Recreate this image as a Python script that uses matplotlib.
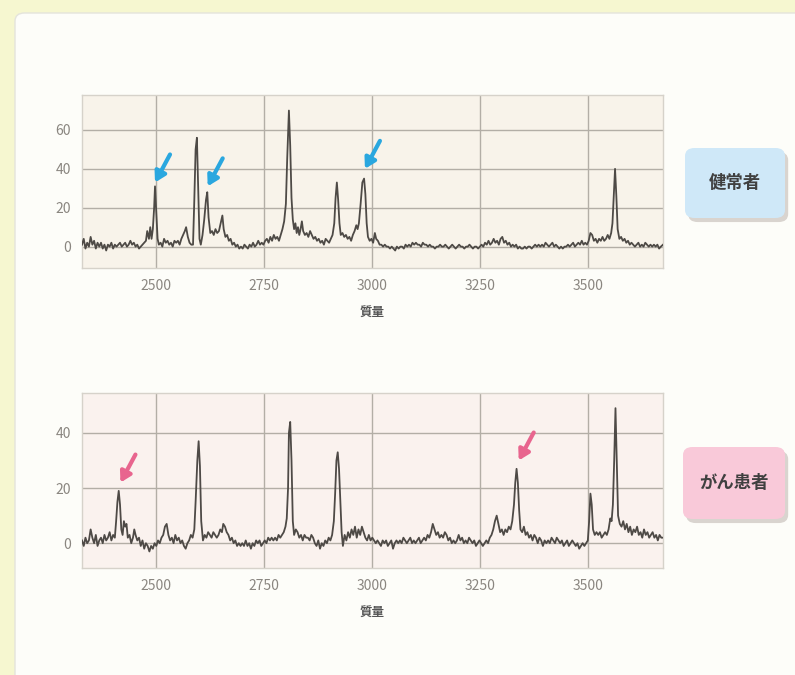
import matplotlib
matplotlib.use("Agg")
import matplotlib.pyplot as plt
from matplotlib.patches import FancyBboxPatch

plt.rcParams['font.family'] = ['Noto Sans CJK JP', 'DejaVu Sans']

# 健常者 spectrum (mass, intensity)
healthy_mass = [
    2329, 2333, 2337, 2341, 2345, 2349, 2353, 2357, 2361, 2365, 2369, 2373, 2377, 2381,
    2385, 2389, 2393, 2397, 2401, 2405, 2409, 2413, 2417, 2421, 2425, 2429, 2433, 2437,
    2441, 2445, 2449, 2453, 2457, 2461, 2465, 2469, 2473, 2477, 2480, 2484, 2487, 2490,
    2493, 2496, 2498, 2501, 2504, 2507, 2511, 2515, 2519, 2523, 2527, 2531, 2535, 2539,
    2543, 2547, 2551, 2555, 2559, 2563, 2567, 2570, 2574, 2578, 2582, 2586, 2589, 2592,
    2595, 2598, 2601, 2604, 2608, 2612, 2616, 2619, 2622, 2626, 2630, 2634, 2638, 2642,
    2646, 2650, 2654, 2657, 2661, 2665, 2669, 2673, 2677, 2681, 2685, 2689, 2693, 2697,
    2701, 2705, 2709, 2713, 2717, 2721, 2725, 2729, 2733, 2737, 2741, 2745, 2749, 2753,
    2757, 2761, 2765, 2769, 2773, 2777, 2781, 2785, 2789, 2793, 2797, 2801, 2804, 2808,
    2811, 2814, 2817, 2820, 2823, 2826, 2829, 2832, 2835, 2838, 2841, 2845, 2849, 2853,
    2857, 2861, 2865, 2869, 2873, 2877, 2881, 2885, 2889, 2893, 2897, 2901, 2905, 2909,
    2913, 2916, 2919, 2922, 2925, 2928, 2932, 2936, 2940, 2944, 2948, 2952, 2956, 2960,
    2964, 2967, 2970, 2974, 2978, 2982, 2985, 2988, 2991, 2995, 2999, 3003, 3007, 3010,
    3014, 3018, 3022, 3026, 3030, 3034, 3038, 3042, 3046, 3050, 3054, 3058, 3062, 3066,
    3070, 3074, 3078, 3082, 3086, 3090, 3094, 3098, 3102, 3106, 3110, 3114, 3118, 3122,
    3126, 3130, 3134, 3138, 3142, 3146, 3150, 3154, 3158, 3162, 3166, 3170, 3174, 3178,
    3182, 3186, 3190, 3194, 3198, 3202, 3206, 3210, 3214, 3218, 3222, 3226, 3230, 3234,
    3238, 3242, 3246, 3250, 3254, 3258, 3262, 3266, 3270, 3274, 3278, 3282, 3286, 3290,
    3294, 3298, 3302, 3306, 3310, 3314, 3318, 3322, 3326, 3330, 3334, 3338, 3342, 3346,
    3350, 3354, 3358, 3362, 3366, 3370, 3374, 3378, 3382, 3386, 3390, 3394, 3398, 3402,
    3406, 3410, 3414, 3418, 3422, 3426, 3430, 3434, 3438, 3442, 3446, 3450, 3454, 3458,
    3462, 3466, 3470, 3474, 3478, 3482, 3486, 3490, 3494, 3498, 3502, 3506, 3510, 3514,
    3518, 3522, 3526, 3530, 3534, 3538, 3542, 3546, 3550, 3554, 3557, 3560, 3563, 3566,
    3569, 3573, 3577, 3581, 3585, 3589, 3593, 3597, 3601, 3605, 3609, 3613, 3617, 3621,
    3625, 3629, 3633, 3637, 3641, 3645, 3649, 3653, 3657, 3661, 3665, 3669, 3674,
]
healthy_int = [
    1, 4, -1, 2, 0, 5, 1, 3, -1, 2, 0, 2, -1, 1,
    -2, 1, 0, 2, -1, 1, 0, 1, 2, 0, 1, 2, 0, 1,
    3, 1, 2, 0, 1, -1, 0, 1, 2, 3, 8, 4, 10, 4,
    9, 20, 31, 18, 4, 1, 2, 0, 4, 2, 3, 1, 2, 0,
    3, 2, 3, 1, 4, 6, 8, 10, 5, 2, 1, 1, 24, 50,
    56, 30, 4, 1, 6, 14, 24, 28, 15, 7, 8, 6, 9, 7,
    8, 12, 16, 9, 5, 6, 3, 4, 1, 2, 0, 1, -1, 0,
    -1, 1, 0, -1, 1, 0, 2, 0, 1, 3, 1, 2, 1, 3,
    4, 2, 5, 3, 6, 4, 5, 3, 6, 9, 13, 22, 45, 70,
    52, 25, 14, 9, 12, 7, 10, 6, 9, 13, 8, 6, 7, 5,
    8, 6, 4, 5, 3, 4, 2, 3, 1, 4, 3, 2, 4, 6,
    12, 25, 33, 24, 12, 6, 7, 5, 6, 4, 5, 3, 6, 8,
    11, 9, 12, 22, 33, 35, 27, 12, 5, 3, 4, 2, 7, 4,
    3, 1, 1, 0, 1, 0, 0, -1, 0, -1, -2, 0, -1, 0,
    0, -1, 1, 0, 1, 0, 2, 1, 2, 1, 1, 0, 2, 1,
    1, 0, 1, 0, 0, -1, 0, 0, 1, 0, 0, 1, 0, -1,
    0, 1, 0, -1, 0, 1, 0, 0, -1, 0, 0, 1, 0, -1,
    0, 0, -1, 0, 1, 0, 2, 1, 3, 1, 2, 4, 2, 3,
    1, 4, 5, 2, 3, 1, 2, 0, 1, 0, 1, -1, 0, -1,
    -1, 0, -1, 0, 0, -1, 0, 1, 0, 1, 0, 1, 0, 2,
    1, 0, 1, 2, 0, 1, 0, -1, 0, -1, 0, 0, 1, 0,
    1, 2, 0, 1, 2, 1, 3, 1, 2, 1, 3, 7, 6, 3,
    4, 2, 4, 3, 5, 3, 4, 6, 4, 7, 12, 26, 40, 26,
    9, 4, 5, 3, 4, 2, 3, 1, 2, 1, 0, 1, 2, 0,
    1, 0, 2, 1, 0, 1, 0, 1, 0, 1, -1, 0, 1,
]

# がん患者 spectrum (mass, intensity)
cancer_mass = [
    2329, 2333, 2337, 2341, 2345, 2349, 2353, 2357, 2361, 2365, 2369, 2373, 2377, 2381,
    2385, 2389, 2393, 2397, 2401, 2405, 2408, 2411, 2414, 2417, 2420, 2423, 2426, 2429,
    2432, 2435, 2439, 2443, 2447, 2450, 2453, 2457, 2461, 2465, 2469, 2473, 2477, 2481,
    2485, 2489, 2493, 2497, 2501, 2505, 2509, 2513, 2517, 2521, 2525, 2529, 2533, 2537,
    2541, 2545, 2549, 2553, 2557, 2561, 2565, 2569, 2573, 2577, 2581, 2585, 2589, 2592,
    2596, 2599, 2602, 2605, 2609, 2613, 2617, 2621, 2625, 2629, 2633, 2637, 2641, 2645,
    2649, 2653, 2656, 2660, 2664, 2668, 2672, 2676, 2680, 2684, 2688, 2692, 2696, 2700,
    2704, 2708, 2712, 2716, 2720, 2724, 2728, 2732, 2736, 2740, 2744, 2748, 2752, 2756,
    2760, 2764, 2768, 2772, 2776, 2780, 2784, 2788, 2792, 2796, 2800, 2803, 2806, 2808,
    2811, 2814, 2817, 2820, 2824, 2828, 2832, 2836, 2840, 2844, 2848, 2852, 2856, 2860,
    2864, 2868, 2872, 2876, 2880, 2884, 2888, 2892, 2896, 2900, 2904, 2908, 2912, 2915,
    2918, 2921, 2924, 2927, 2930, 2933, 2937, 2941, 2945, 2949, 2953, 2957, 2961, 2965,
    2969, 2973, 2977, 2981, 2985, 2989, 2993, 2997, 3001, 3005, 3009, 3013, 3017, 3021,
    3025, 3029, 3033, 3037, 3041, 3045, 3049, 3053, 3057, 3061, 3065, 3069, 3073, 3077,
    3081, 3085, 3089, 3093, 3097, 3101, 3105, 3109, 3113, 3117, 3121, 3125, 3129, 3133,
    3137, 3141, 3145, 3149, 3153, 3157, 3161, 3165, 3169, 3173, 3177, 3181, 3185, 3189,
    3193, 3197, 3201, 3205, 3209, 3213, 3217, 3221, 3225, 3229, 3233, 3237, 3241, 3245,
    3249, 3253, 3257, 3261, 3265, 3269, 3273, 3277, 3281, 3285, 3289, 3293, 3297, 3301,
    3305, 3309, 3313, 3317, 3321, 3325, 3329, 3332, 3335, 3338, 3341, 3344, 3348, 3352,
    3356, 3360, 3364, 3368, 3372, 3376, 3380, 3384, 3388, 3392, 3396, 3400, 3404, 3408,
    3412, 3416, 3420, 3424, 3428, 3432, 3436, 3440, 3444, 3448, 3452, 3456, 3460, 3464,
    3468, 3472, 3476, 3480, 3484, 3488, 3492, 3496, 3500, 3503, 3506, 3509, 3512, 3516,
    3520, 3524, 3528, 3532, 3536, 3540, 3544, 3548, 3552, 3555, 3558, 3561, 3564, 3567,
    3570, 3574, 3578, 3582, 3586, 3590, 3594, 3598, 3602, 3606, 3610, 3614, 3618, 3622,
    3626, 3630, 3634, 3638, 3642, 3646, 3650, 3654, 3658, 3662, 3666, 3670, 3674,
]
cancer_int = [
    1, -1, 2, 0, 1, 5, 2, 0, 3, -1, 1, 2, 0, 3,
    1, 2, 4, 1, 3, 2, 8, 15, 19, 14, 5, 3, 8, 6,
    7, 2, 3, 0, 2, 5, 3, 1, 2, -1, 1, -2, 0, -1,
    -3, -1, -2, 0, -1, 1, 0, 2, 3, 6, 7, 3, 1, 2,
    0, 3, 1, 2, 0, 1, -1, -2, 0, 1, 3, 2, 5, 15,
    30, 37, 28, 8, 1, 3, 2, 4, 3, 2, 4, 3, 2, 3,
    5, 4, 7, 6, 4, 3, 1, 2, 0, 1, -1, 0, -1, 0,
    -1, 1, -1, 0, -2, 0, -1, 1, 0, 1, -1, 0, 1, 0,
    2, 1, 2, 1, 2, 1, 3, 2, 3, 4, 6, 9, 20, 40,
    44, 30, 8, 3, 5, 4, 2, 3, 1, 3, 2, 2, 1, 3,
    2, 0, -1, 1, -2, 0, -1, 1, 0, 2, 1, 3, 8, 18,
    30, 33, 27, 15, 4, -1, 3, 1, 4, 2, 5, 3, 6, 2,
    5, 3, 6, 4, 2, 1, 3, 1, 2, 1, 0, 1, 0, -1,
    1, 0, 1, -1, 0, 1, -2, 0, 1, 0, 1, 0, 2, 1,
    0, 1, 2, 0, 1, 0, 1, 2, 0, 1, 2, 1, 3, 2,
    4, 7, 5, 3, 4, 2, 3, 2, 4, 3, 1, 2, 0, 1,
    0, 1, 3, 1, 2, 0, 1, 0, 2, 1, 0, 1, -1, 0,
    1, 0, -1, 0, 1, 0, 2, 3, 5, 8, 10, 7, 4, 5,
    3, 5, 4, 6, 5, 8, 14, 22, 27, 22, 12, 5, 4, 6,
    3, 4, 2, 3, 1, 3, 2, 0, 2, 1, -1, 1, 0, 1,
    0, 2, 1, 0, 2, 1, 0, 1, -1, 0, 1, -1, 0, 1,
    0, -1, 0, -2, -1, 0, -1, 0, 1, 8, 18, 14, 5, 3,
    4, 3, 4, 2, 3, 4, 3, 5, 9, 8, 14, 30, 49, 30,
    10, 7, 6, 8, 5, 7, 4, 6, 3, 5, 4, 6, 3, 4,
    2, 5, 3, 4, 2, 3, 4, 2, 3, 1, 3, 2, 2,
]

# arrow targets (mass, intensity)
healthy_arrow_mass = [2498, 2620, 2984]
healthy_arrow_int = [33, 31, 40]
cancer_arrow_mass = [2418, 3340]
cancer_arrow_int = [22, 30]

x_ticks = [2500, 2750, 3000, 3250, 3500]
healthy_yticks = [0, 20, 40, 60]
cancer_yticks = [0, 20, 40]

fig = plt.figure(figsize=(7.95, 6.75), dpi=100)
fig.patch.set_facecolor('#f6f7d0')

# white card behind everything
card = FancyBboxPatch((15 / 795, -0.05), 1.2, 1.05 - 13 / 675, boxstyle="round,pad=0,rounding_size=0.012",
                      transform=fig.transFigure, facecolor='#fdfdf9', edgecolor='#e4e4dc', lw=1.0, zorder=-5)
fig.patches.append(card)


def draw_panel(rect, mass, inten, yticks, ylim, face, arrows, arrow_color):
    ax = fig.add_axes(rect)
    ax.set_facecolor(face)
    ax.plot(mass, inten, color='#4e4a46', lw=1.3, zorder=3)
    ax.set_xlim(2329, 3674)
    ax.set_ylim(*ylim)
    ax.set_xticks(x_ticks)
    ax.set_yticks(yticks)
    ax.grid(True, color='#b3aea6', lw=1.0, zorder=1)
    ax.set_axisbelow(True)
    ax.tick_params(length=0, labelsize=10, colors='#8a8680', pad=8)
    for s in ax.spines.values():
        s.set_color('#d6d2ca')
        s.set_linewidth(1.0)
    ax.set_xlabel('質量', fontsize=9, color='#555555', labelpad=10, fontweight='bold')
    for m, v in zip(*arrows):
        ax.annotate('', xy=(m, v), xytext=(15, 28), textcoords='offset pixels',
                    arrowprops=dict(arrowstyle='-|>,head_length=0.6,head_width=0.35',
                                    color=arrow_color, lw=3, shrinkA=0, shrinkB=0),
                    zorder=5)
    return ax


ax1 = draw_panel([82 / 795, 1 - 268 / 675, 581 / 795, 173 / 675], healthy_mass, healthy_int,
                 healthy_yticks, (-11, 78), '#f8f3ea', (healthy_arrow_mass, healthy_arrow_int), '#2aa7df')
ax2 = draw_panel([82 / 795, 1 - 568 / 675, 581 / 795, 175 / 675], cancer_mass, cancer_int,
                 cancer_yticks, (-9, 54.5), '#faf2ee', (cancer_arrow_mass, cancer_arrow_int), '#e8658e')


def label_box(x0, y0, w, h, text, face):
    # shadow
    sh = FancyBboxPatch((x0 / 795 + 0.004, 1 - (y0 + h) / 675 - 0.006), w / 795, h / 675,
                        boxstyle="round,pad=0,rounding_size=0.012", transform=fig.transFigure,
                        facecolor='#d9d4cf', edgecolor='none', zorder=1)
    fig.patches.append(sh)
    b = FancyBboxPatch((x0 / 795, 1 - (y0 + h) / 675), w / 795, h / 675,
                       boxstyle="round,pad=0,rounding_size=0.012", transform=fig.transFigure,
                       facecolor=face, edgecolor='none', zorder=2)
    fig.patches.append(b)
    fig.text((x0 + w / 2) / 795, 1 - (y0 + h / 2) / 675, text, ha='center', va='center',
             fontsize=12.5, color='#404040', fontweight='bold', zorder=3)


label_box(685, 148, 100, 70, '健常者', '#cfe8f8')
label_box(683, 447, 102, 72, 'がん患者', '#f9c9d9')

fig.savefig('out.png', dpi=100, facecolor=fig.get_facecolor())
